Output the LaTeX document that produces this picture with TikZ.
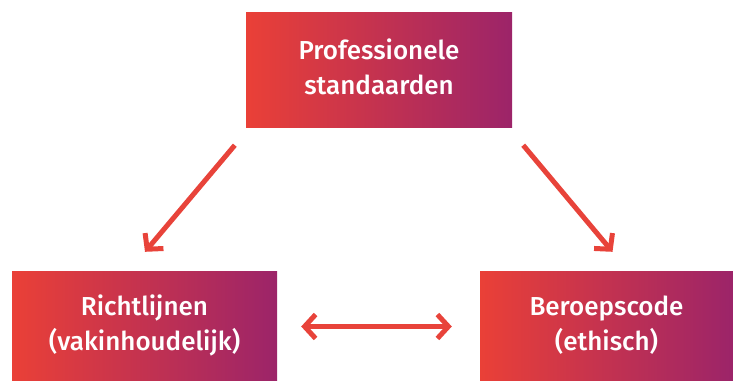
\documentclass[tikz,border=0pt]{standalone}
\usepackage{fontspec}
\setmainfont{Fira Sans Medium}
\usetikzlibrary{arrows.meta,calc}
\definecolor{gradL}{HTML}{EA4037}
\definecolor{gradR}{HTML}{9C2469}
\definecolor{arrowred}{HTML}{E8433A}
\newcommand{\twolines}[2]{\raisebox{-4pt}{\begin{tabular}{@{}c@{}}#1\\#2\end{tabular}}}
\tikzset{
  gbox/.style={rectangle, inner sep=0pt, left color=gradL, right color=gradR, draw=none,
    text=white, align=center, font=\fontsize{26}{35}\selectfont},
  conn/.style={draw=arrowred, line width=5pt, -{Straight Barb[length=11pt,width=24pt,line width=5pt]}},
  conn2/.style={draw=arrowred, line width=5pt, {Straight Barb[length=11pt,width=24pt,line width=5pt]}-{Straight Barb[length=11pt,width=24pt,line width=5pt]}}
}
\begin{document}
\begin{tikzpicture}[x=1pt,y=-1pt]
\useasboundingbox (0,0) rectangle (733,380);
\node[gbox, minimum width=266pt, minimum height=115pt] (top) at (379,69.5) {\twolines{Professionele}{standaarden}};
\node[gbox, minimum width=265pt, minimum height=109pt] (rl) at (144.5,325.5) {\twolines{Richtlijnen}{(vakinhoudelijk)}};
\node[gbox, minimum width=253pt, minimum height=109pt] (bc) at (606.5,325.5) {\twolines{Beroepscode}{(ethisch)}};
\coordinate (a1s) at ($(top.south west)+(-11,18)$);
\coordinate (a1e) at ($(rl.north)+(0.5,-19)$);
\coordinate (a2s) at ($(top.south east)+(11,18)$);
\coordinate (a2e) at ($(bc.north)+(6,-19)$);
\coordinate (hl) at ($(rl.east)+(24,1)$);
\coordinate (hr) at ($(bc.west)+(-28,1)$);
\draw[conn] (a1s) -- (a1e);
\draw[conn] (a2s) -- (a2e);
\draw[conn2] (hl) -- (hr);
\end{tikzpicture}
\end{document}
